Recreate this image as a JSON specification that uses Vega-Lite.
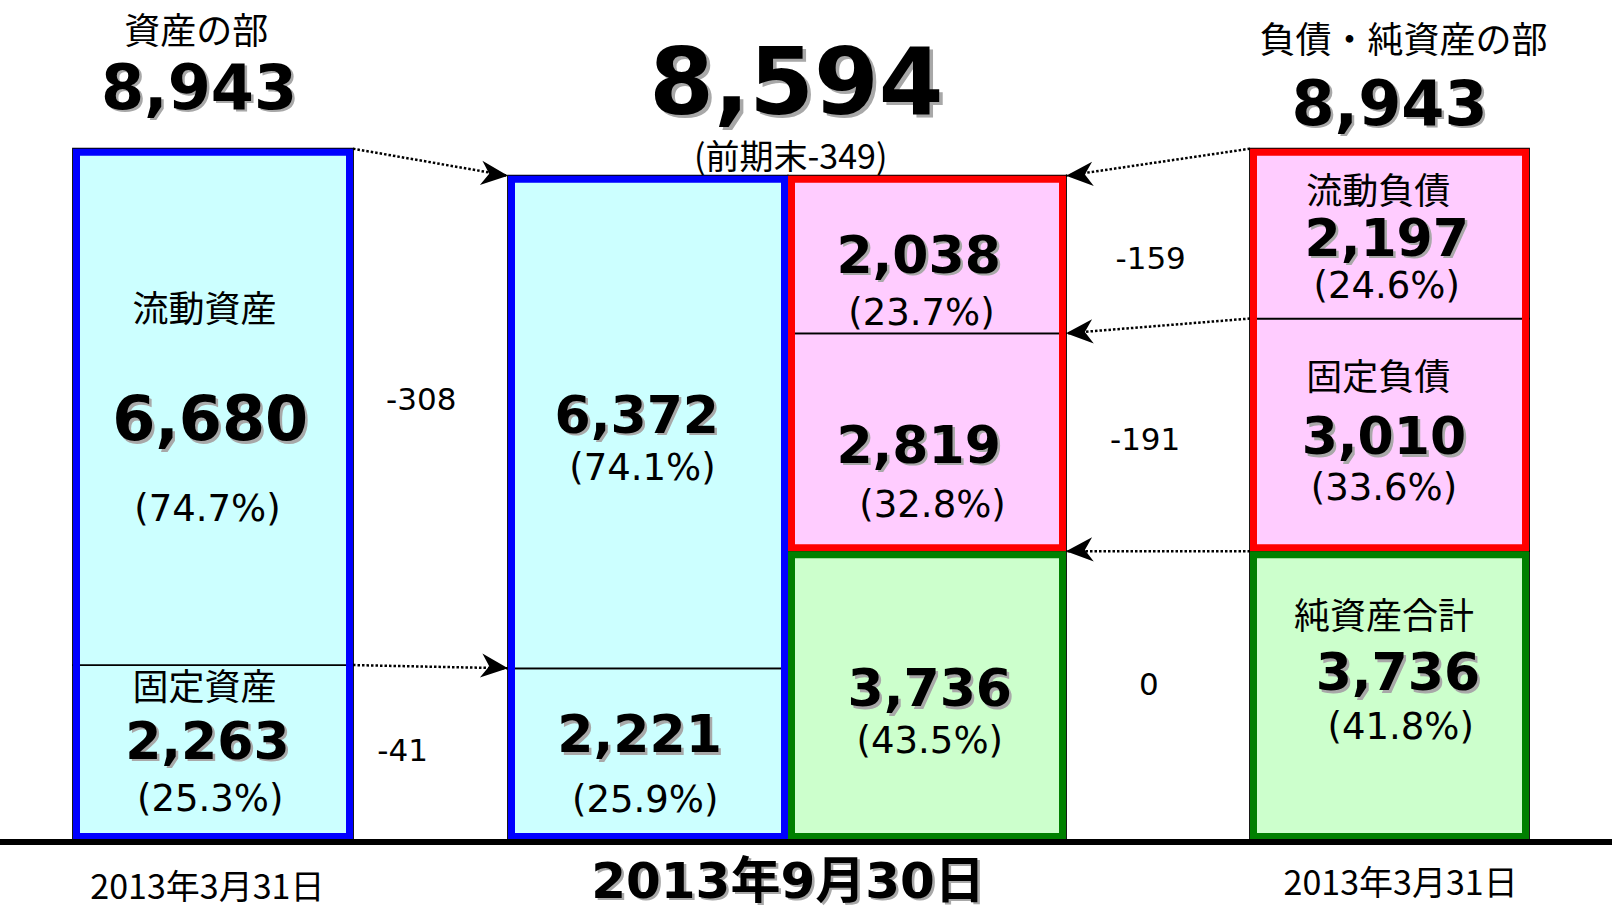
{
  "$schema": "https://vega.github.io/schema/vega-lite/v6.json",
  "width": 1612,
  "height": 913,
  "autosize": {"type": "none"},
  "padding": 0,
  "background": "white",
  "config": {"view": {"stroke": null}, "axis": {"disable": true}, "legend": {"disable": true}},
  "datasets": {
    "segs": [
      {"item": "固定資産", "amount": 2263, "left": 0, "right": 1, "lo": 0, "hi": 2263, "part": "asset"},
      {"item": "流動資産", "amount": 6680, "left": 0, "right": 1, "lo": 2263, "hi": 8943, "part": "asset"},
      {"item": "固定資産", "amount": 2221, "left": 2, "right": 3, "lo": 0, "hi": 2221, "part": "asset"},
      {"item": "流動資産", "amount": 6372, "left": 2, "right": 3, "lo": 2221, "hi": 8593, "part": "asset"},
      {"item": "純資産合計", "amount": 3736, "left": 4, "right": 5, "lo": 0, "hi": 3736, "part": "net"},
      {"item": "固定負債", "amount": 2819, "left": 4, "right": 5, "lo": 3736, "hi": 6555, "part": "liab"},
      {"item": "流動負債", "amount": 2038, "left": 4, "right": 5, "lo": 6555, "hi": 8593, "part": "liab"},
      {"item": "純資産合計", "amount": 3736, "left": 6, "right": 7, "lo": 0, "hi": 3736, "part": "net"},
      {"item": "固定負債", "amount": 3010, "left": 6, "right": 7, "lo": 3736, "hi": 6746, "part": "liab"},
      {"item": "流動負債", "amount": 2197, "left": 6, "right": 7, "lo": 6746, "hi": 8943, "part": "liab"}
    ],
    "boxes": [
      {"left": 0, "right": 1, "lo": 0, "hi": 8943, "part": "asset"},
      {"left": 2, "right": 3, "lo": 0, "hi": 8593, "part": "asset"},
      {"left": 4, "right": 5, "lo": 3736, "hi": 8593, "part": "liab"},
      {"left": 4, "right": 5, "lo": 0, "hi": 3736, "part": "net"},
      {"left": 6, "right": 7, "lo": 3736, "hi": 8943, "part": "liab"},
      {"left": 6, "right": 7, "lo": 0, "hi": 3736, "part": "net"}
    ],
    "arrows": [
      {"from": 1, "to": 2, "v0": 8943, "v1": 8593, "dir": "right"},
      {"from": 1, "to": 2, "v0": 2263, "v1": 2221, "dir": "right"},
      {"from": 6, "to": 5, "v0": 8943, "v1": 8593, "dir": "left"},
      {"from": 6, "to": 5, "v0": 6746, "v1": 6555, "dir": "left"},
      {"from": 6, "to": 5, "v0": 3736, "v1": 3736, "dir": "left"}
    ],
    "labels": [
      {"t": "資産の部", "x": 0.44, "v": 10479, "k": "cjk"},
      {"t": "8,943", "x": 0.45, "v": 9742, "k": "n62"},
      {"t": "流動資産", "x": 0.47, "v": 6882, "k": "cjk"},
      {"t": "6,680", "x": 0.49, "v": 5459, "k": "n62"},
      {"t": "(74.7%)", "x": 0.48, "v": 4308, "k": "pct"},
      {"t": "固定資産", "x": 0.47, "v": 1992, "k": "cjk"},
      {"t": "2,263", "x": 0.48, "v": 1294, "k": "n52"},
      {"t": "(25.3%)", "x": 0.49, "v": 556, "k": "pct"},
      {"t": "2013年3月31日", "x": 0.48, "v": -595, "k": "sub"},
      {"t": "8,594", "x": 4.03, "v": 9806, "k": "n93"},
      {"t": "(前期末-349)", "x": 4.01, "v": 8849, "k": "sub"},
      {"t": "6,372", "x": 2.46, "v": 5511, "k": "n52"},
      {"t": "(74.1%)", "x": 2.48, "v": 4838, "k": "pct"},
      {"t": "2,221", "x": 2.47, "v": 1384, "k": "n52"},
      {"t": "(25.9%)", "x": 2.49, "v": 543, "k": "pct"},
      {"t": "2,038", "x": 4.47, "v": 7581, "k": "n52"},
      {"t": "(23.7%)", "x": 4.48, "v": 6844, "k": "pct"},
      {"t": "2,819", "x": 4.47, "v": 5123, "k": "n52"},
      {"t": "(32.8%)", "x": 4.52, "v": 4360, "k": "pct"},
      {"t": "3,736", "x": 4.51, "v": 1979, "k": "n52"},
      {"t": "(43.5%)", "x": 4.51, "v": 1307, "k": "pct"},
      {"t": "2013年9月30日", "x": 4.0, "v": -550, "k": "dateB"},
      {"t": "負債・純資産の部", "x": 6.55, "v": 10363, "k": "cjk"},
      {"t": "8,943", "x": 6.5, "v": 9535, "k": "n62"},
      {"t": "流動負債", "x": 6.46, "v": 8409, "k": "cjk"},
      {"t": "2,197", "x": 6.49, "v": 7801, "k": "n52"},
      {"t": "(24.6%)", "x": 6.49, "v": 7193, "k": "pct"},
      {"t": "固定負債", "x": 6.46, "v": 6003, "k": "cjk"},
      {"t": "3,010", "x": 6.48, "v": 5239, "k": "n52"},
      {"t": "(33.6%)", "x": 6.48, "v": 4580, "k": "pct"},
      {"t": "純資産合計", "x": 6.48, "v": 2911, "k": "cjk"},
      {"t": "3,736", "x": 6.53, "v": 2186, "k": "n52"},
      {"t": "(41.8%)", "x": 6.54, "v": 1488, "k": "pct"},
      {"t": "2013年3月31日", "x": 6.54, "v": -543, "k": "sub"},
      {"t": "-308", "x": 1.44, "v": 5718, "k": "delta"},
      {"t": "-41", "x": 1.32, "v": 1177, "k": "delta"},
      {"t": "-159", "x": 5.46, "v": 7542, "k": "delta"},
      {"t": "-191", "x": 5.43, "v": 5201, "k": "delta"},
      {"t": "0", "x": 5.45, "v": 2031, "k": "delta"}
    ]
  },
  "layer": [
    {
      "data": {"name": "segs"},
      "mark": {"type": "rect", "stroke": "#000000", "strokeWidth": 1.8},
      "encoding": {
        "x": {"field": "left", "type": "quantitative", "axis": null,
              "scale": {"type": "linear", "domain": [0, 1, 2, 3, 4, 5, 6, 7], "range": [73, 353, 508, 788, 788, 1066, 1250, 1529], "nice": false, "zero": false}},
        "x2": {"field": "right"},
        "y": {"field": "lo", "type": "quantitative", "axis": null,
              "scale": {"type": "linear", "domain": [0, 10000], "range": [840, 67], "nice": false, "zero": false}},
        "y2": {"field": "hi"},
        "fill": {"field": "part", "type": "nominal", "legend": null,
                 "scale": {"domain": ["asset", "liab", "net"], "range": ["#CCFFFF", "#FFCCFF", "#CCFFCC"]}}
      }
    },
    {
      "data": {"name": "boxes"},
      "mark": {"type": "rect", "fill": null, "fillOpacity": 0, "strokeWidth": 7, "xOffset": 3.5, "x2Offset": -3.5, "yOffset": -3.5, "y2Offset": 3.5},
      "encoding": {
        "x": {"field": "left", "type": "quantitative"},
        "x2": {"field": "right"},
        "y": {"field": "lo", "type": "quantitative"},
        "y2": {"field": "hi"},
        "stroke": {"field": "part", "type": "nominal", "legend": null,
                   "scale": {"domain": ["asset", "liab", "net"], "range": ["#0000FF", "#FF0000", "#008000"]}}
      }
    },
    {
      "data": {"values": [{"base": 0}]},
      "mark": {"type": "rule", "color": "#000000", "strokeWidth": 6, "yOffset": 2},
      "encoding": {"y": {"field": "base", "type": "quantitative"}}
    },
    {
      "data": {"name": "arrows"},
      "mark": {"type": "rule", "color": "#000000", "strokeWidth": 2.5, "strokeDash": [2.5, 2], "strokeCap": "butt"},
      "encoding": {
        "x": {"field": "from", "type": "quantitative"},
        "x2": {"field": "to"},
        "y": {"field": "v0", "type": "quantitative"},
        "y2": {"field": "v1"}
      }
    },
    {
      "data": {"name": "arrows"},
      "mark": {"type": "point", "filled": true, "size": 729, "opacity": 1, "color": "#000000", "strokeWidth": 0},
      "encoding": {
        "x": {"field": "to", "type": "quantitative"},
        "y": {"field": "v1", "type": "quantitative"},
        "shape": {"field": "dir", "type": "nominal", "legend": null,
                  "scale": {"domain": ["right", "left"], "range": ["M0,0L-1.895,-1.104L-1.392,-0.146L-2.083,0.686Z", "M0,0L1.932,-1.038L1.397,-0.098L2.058,0.758Z"]}}
      }
    },
    {
      "data": {"name": "labels"},
      "transform": [{"filter": {"field": "k", "equal": "cjk"}}],
      "mark": {"type": "text", "font": "Noto Sans CJK JP", "fontSize": 36, "color": "#000000", "align": "center", "baseline": "middle", "dy": 3},
      "encoding": {"x": {"field": "x", "type": "quantitative"}, "y": {"field": "v", "type": "quantitative"}, "text": {"field": "t"}}
    },
    {
      "data": {"name": "labels"},
      "transform": [{"filter": {"field": "k", "equal": "sub"}}],
      "mark": {"type": "text", "font": "Noto Sans CJK JP", "fontSize": 34, "color": "#000000", "align": "center", "baseline": "middle", "dy": 3},
      "encoding": {"x": {"field": "x", "type": "quantitative"}, "y": {"field": "v", "type": "quantitative"}, "text": {"field": "t"}}
    },
    {
      "data": {"name": "labels"},
      "transform": [{"filter": {"field": "k", "equal": "pct"}}],
      "mark": {"type": "text", "font": "DejaVu Sans", "fontSize": 37, "color": "#000000", "align": "center", "baseline": "middle", "dy": 3},
      "encoding": {"x": {"field": "x", "type": "quantitative"}, "y": {"field": "v", "type": "quantitative"}, "text": {"field": "t"}}
    },
    {
      "data": {"name": "labels"},
      "transform": [{"filter": {"field": "k", "equal": "delta"}}],
      "mark": {"type": "text", "font": "DejaVu Sans", "fontSize": 31, "color": "#000000", "align": "center", "baseline": "middle", "dy": 3},
      "encoding": {"x": {"field": "x", "type": "quantitative"}, "y": {"field": "v", "type": "quantitative"}, "text": {"field": "t"}}
    },
    {
      "data": {"name": "labels"},
      "transform": [{"filter": {"field": "k", "equal": "n52"}}],
      "mark": {"type": "text", "font": "DejaVu Sans", "fontWeight": "bold", "fontSize": 52, "color": "#a8a8a8", "align": "center", "baseline": "middle", "dx": 2.5, "dy": 5.5},
      "encoding": {"x": {"field": "x", "type": "quantitative"}, "y": {"field": "v", "type": "quantitative"}, "text": {"field": "t"}}
    },
    {
      "data": {"name": "labels"},
      "transform": [{"filter": {"field": "k", "equal": "n52"}}],
      "mark": {"type": "text", "font": "DejaVu Sans", "fontWeight": "bold", "fontSize": 52, "color": "#000000", "align": "center", "baseline": "middle", "dy": 3},
      "encoding": {"x": {"field": "x", "type": "quantitative"}, "y": {"field": "v", "type": "quantitative"}, "text": {"field": "t"}}
    },
    {
      "data": {"name": "labels"},
      "transform": [{"filter": {"field": "k", "equal": "n62"}}],
      "mark": {"type": "text", "font": "DejaVu Sans", "fontWeight": "bold", "fontSize": 62, "color": "#a8a8a8", "align": "center", "baseline": "middle", "dx": 2.5, "dy": 5.5},
      "encoding": {"x": {"field": "x", "type": "quantitative"}, "y": {"field": "v", "type": "quantitative"}, "text": {"field": "t"}}
    },
    {
      "data": {"name": "labels"},
      "transform": [{"filter": {"field": "k", "equal": "n62"}}],
      "mark": {"type": "text", "font": "DejaVu Sans", "fontWeight": "bold", "fontSize": 62, "color": "#000000", "align": "center", "baseline": "middle", "dy": 3},
      "encoding": {"x": {"field": "x", "type": "quantitative"}, "y": {"field": "v", "type": "quantitative"}, "text": {"field": "t"}}
    },
    {
      "data": {"name": "labels"},
      "transform": [{"filter": {"field": "k", "equal": "n93"}}],
      "mark": {"type": "text", "font": "DejaVu Sans", "fontWeight": "bold", "fontSize": 93, "color": "#a8a8a8", "align": "center", "baseline": "middle", "dx": 3.5, "dy": 7.5},
      "encoding": {"x": {"field": "x", "type": "quantitative"}, "y": {"field": "v", "type": "quantitative"}, "text": {"field": "t"}}
    },
    {
      "data": {"name": "labels"},
      "transform": [{"filter": {"field": "k", "equal": "n93"}}],
      "mark": {"type": "text", "font": "DejaVu Sans", "fontWeight": "bold", "fontSize": 93, "color": "#000000", "align": "center", "baseline": "middle", "dy": 4},
      "encoding": {"x": {"field": "x", "type": "quantitative"}, "y": {"field": "v", "type": "quantitative"}, "text": {"field": "t"}}
    },
    {
      "data": {"name": "labels"},
      "transform": [{"filter": {"field": "k", "equal": "dateB"}}],
      "mark": {"type": "text", "font": "DejaVu Sans, Noto Sans CJK JP", "fontWeight": "bold", "fontSize": 50, "color": "#a8a8a8", "align": "center", "baseline": "middle", "dx": 2.5, "dy": 2.5},
      "encoding": {"x": {"field": "x", "type": "quantitative"}, "y": {"field": "v", "type": "quantitative"}, "text": {"field": "t"}}
    },
    {
      "data": {"name": "labels"},
      "transform": [{"filter": {"field": "k", "equal": "dateB"}}],
      "mark": {"type": "text", "font": "DejaVu Sans, Noto Sans CJK JP", "fontWeight": "bold", "fontSize": 50, "color": "#000000", "align": "center", "baseline": "middle"},
      "encoding": {"x": {"field": "x", "type": "quantitative"}, "y": {"field": "v", "type": "quantitative"}, "text": {"field": "t"}}
    }
  ]
}
